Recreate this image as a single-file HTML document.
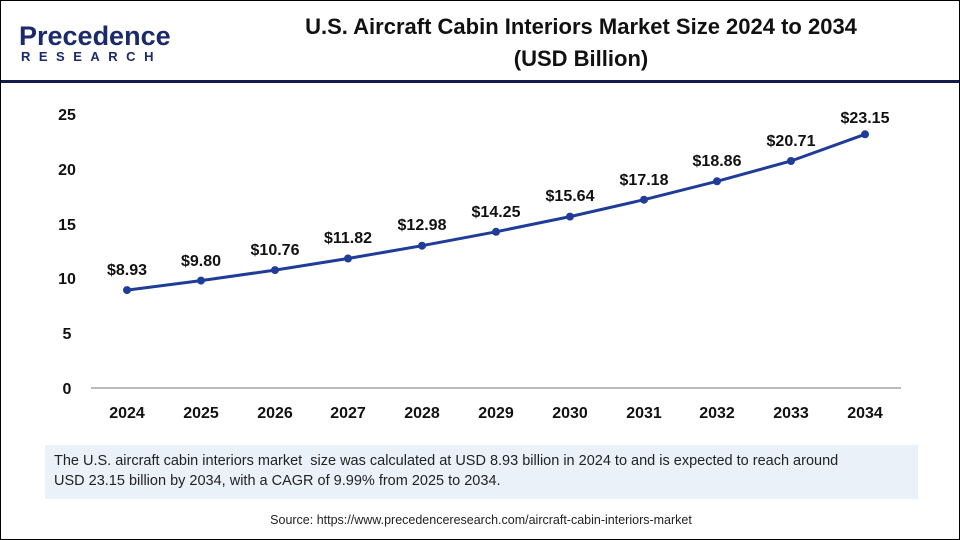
<!DOCTYPE html><html><head><meta charset="utf-8"><style>
body{margin:0}
#c{position:relative;width:958px;height:538px;border:1px solid #000;background:#fff;font-family:"Liberation Sans",Arial,sans-serif;overflow:hidden}
.t{position:absolute;left:210px;width:740px;text-align:center;font-weight:bold;font-size:22px;color:#111;line-height:31px}
</style></head><body><div id="c">
<div style="position:absolute;left:18px;top:20px;font-size:27px;color:#1b2a6b;font-weight:bold;letter-spacing:0px">Precedence</div>
<div style="position:absolute;left:20px;top:48px;font-size:13px;color:#1b2a6b;font-weight:bold;letter-spacing:8.5px">RESEARCH</div>
<div class="t" style="top:10px">U.S. Aircraft Cabin Interiors Market Size 2024 to 2034</div>
<div class="t" style="top:42px">(USD Billion)</div>
<div style="position:absolute;left:0;top:79px;width:960px;height:3px;background:#141b4d"></div>
<svg style="position:absolute;left:0;top:0" width="960" height="540" font-family="Liberation Sans,Arial,sans-serif" font-weight="bold">
<line x1="90" y1="387" x2="900" y2="387" stroke="#bbb" stroke-width="2"/>
<g font-size="16" fill="#111" text-anchor="middle">
<text x="66" y="393">0</text><text x="66" y="338">5</text><text x="66" y="283">10</text><text x="66" y="229">15</text><text x="66" y="174">20</text><text x="66" y="119">25</text>
<text x="126" y="417">2024</text><text x="200" y="417">2025</text><text x="274" y="417">2026</text><text x="347" y="417">2027</text><text x="421" y="417">2028</text><text x="495" y="417">2029</text><text x="569" y="417">2030</text><text x="643" y="417">2031</text><text x="716" y="417">2032</text><text x="790" y="417">2033</text><text x="864" y="417">2034</text>
</g>
<polyline fill="none" stroke="#1f3c99" stroke-width="3" points="126,289.1 200,279.6 274,269.1 347,257.5 421,244.7 495,230.8 569,215.6 643,198.7 716,180.3 790,160 864,133.3"/>
<g fill="#1f3c99"><circle cx="126" cy="289.1" r="4"/><circle cx="200" cy="279.6" r="4"/><circle cx="274" cy="269.1" r="4"/><circle cx="347" cy="257.5" r="4"/><circle cx="421" cy="244.7" r="4"/><circle cx="495" cy="230.8" r="4"/><circle cx="569" cy="215.6" r="4"/><circle cx="643" cy="198.7" r="4"/><circle cx="716" cy="180.3" r="4"/><circle cx="790" cy="160" r="4"/><circle cx="864" cy="133.3" r="4"/></g>
<g font-size="16" fill="#111" text-anchor="middle">
<text x="126" y="274">$8.93</text><text x="200" y="265">$9.80</text><text x="274" y="254">$10.76</text><text x="347" y="242">$11.82</text><text x="421" y="229">$12.98</text><text x="495" y="216">$14.25</text><text x="569" y="200">$15.64</text><text x="643" y="184">$17.18</text><text x="716" y="165">$18.86</text><text x="790" y="145">$20.71</text><text x="864" y="122">$23.15</text>
</g>
</svg>
<div style="position:absolute;left:44px;top:444px;height:54px;background:#eaf1f9;padding-left:9px;font-size:14.5px;color:#222;line-height:20px;padding-top:6px;box-sizing:border-box;width:873px">The U.S. aircraft cabin interiors market&nbsp; size was calculated at USD 8.93 billion in 2024 to and is expected to reach around<br>USD 23.15 billion by 2034, with a CAGR of 9.99% from 2025 to 2034.</div>
<div style="position:absolute;left:0;width:960px;top:512px;text-align:center;font-size:12.5px;color:#222">Source: https://www.precedenceresearch.com/aircraft-cabin-interiors-market</div>
</div></body></html>
